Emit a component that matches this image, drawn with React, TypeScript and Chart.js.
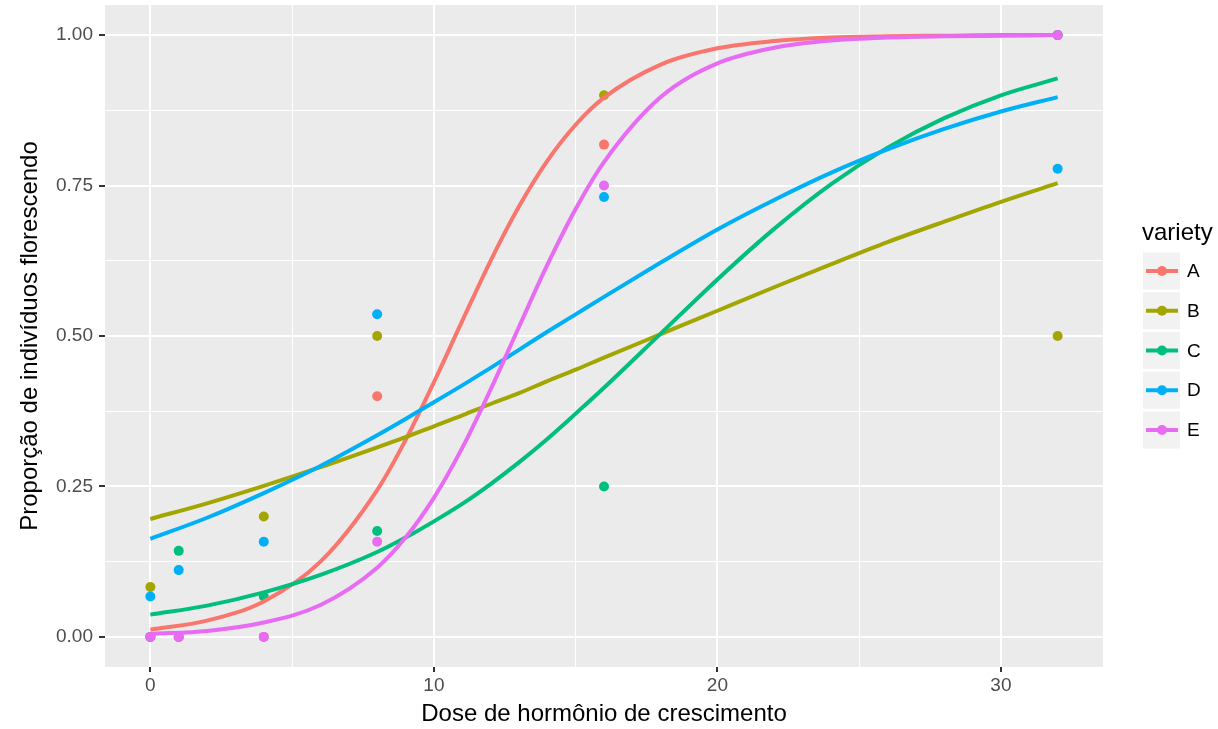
import React, { useEffect, useRef } from "react";
import { Chart, registerables } from "chart.js";

Chart.register(...registerables);

const varieties = ["A", "B", "C", "D", "E"];
const colors = ["#F8766D", "#A3A500", "#00BF7D", "#00B0F6", "#E76BF3"];

// observed proportions
const doses = [0, 1, 4, 8, 16, 32];
const obsA = [0, 0, 0, 0.4, 0.818, 1];
const obsB = [0.083, 0, 0.2, 0.5, 0.9, 0.5];
const obsC = [0, 0.143, 0.067, 0.176, 0.25, 1];
const obsD = [0.067, 0.111, 0.158, 0.536, 0.731, 0.778];
const obsE = [0, 0, 0, 0.158, 0.75, 1];

// fitted curves
const curveDose = [0, 2, 4, 6, 8, 9, 10, 11, 12, 13, 14, 15, 16, 18, 20, 22, 24, 26, 28, 30, 32];
const fitA = [0.012, 0.027, 0.059, 0.125, 0.244, 0.327, 0.423, 0.525, 0.625, 0.715, 0.791, 0.851, 0.896, 0.951, 0.978, 0.99, 0.996, 0.998, 0.999, 1.0, 1.0];
const fitB = [0.196, 0.222, 0.251, 0.282, 0.315, 0.332, 0.35, 0.368, 0.387, 0.405, 0.425, 0.444, 0.464, 0.503, 0.542, 0.581, 0.619, 0.656, 0.69, 0.723, 0.754];
const fitC = [0.037, 0.052, 0.074, 0.103, 0.141, 0.165, 0.192, 0.221, 0.254, 0.29, 0.329, 0.371, 0.414, 0.504, 0.594, 0.678, 0.752, 0.813, 0.862, 0.9, 0.928];
const fitD = [0.163, 0.198, 0.239, 0.284, 0.335, 0.362, 0.39, 0.418, 0.447, 0.477, 0.507, 0.536, 0.565, 0.622, 0.677, 0.726, 0.771, 0.81, 0.844, 0.873, 0.897];
const fitE = [0.005, 0.01, 0.024, 0.053, 0.115, 0.165, 0.231, 0.314, 0.411, 0.515, 0.618, 0.711, 0.789, 0.897, 0.953, 0.979, 0.991, 0.996, 0.998, 0.999, 1.0];

const xTicks = [0, 5, 10, 15, 20, 25, 30];
const yTicks = [0, 0.125, 0.25, 0.375, 0.5, 0.625, 0.75, 0.875, 1];

const xTitle = "Dose de hormônio de crescimento";
const yTitle = "Proporção de indivíduos florescendo";
const legendTitle = "variety";

const FONT = "'Liberation Sans', Arial, Helvetica, sans-serif";

export default function App() {
  const ref = useRef<HTMLCanvasElement>(null);

  useEffect(() => {
    document.body.style.margin = "0";
    const canvas = ref.current;
    if (!canvas) return;
    const obs = [obsA, obsB, obsC, obsD, obsE];
    const fits = [fitA, fitB, fitC, fitD, fitE];

    const datasets: any[] = [];
    varieties.forEach((v, i) => {
      datasets.push({
        label: v + " obs",
        data: doses.map((d, k) => ({ x: d, y: obs[i][k] })),
        showLine: false,
        pointRadius: 5,
        pointBorderWidth: 0,
        pointBackgroundColor: colors[i],
        pointBorderColor: colors[i],
        order: 10 - i,
      });
    });
    varieties.forEach((v, i) => {
      datasets.push({
        label: v,
        data: curveDose.map((d, k) => ({ x: d, y: fits[i][k] })),
        showLine: true,
        borderColor: colors[i],
        borderWidth: 4,
        pointRadius: 0,
        cubicInterpolationMode: "monotone",
        fill: false,
        order: 5 - i,
      });
    });

    const bgPlugin = {
      id: "bg",
      beforeDraw(chart: any) {
        const { ctx, chartArea } = chart;
        ctx.save();
        ctx.fillStyle = "#FFFFFF";
        ctx.fillRect(0, 0, chart.width, chart.height);
        ctx.fillStyle = "#EBEBEB";
        ctx.fillRect(chartArea.left, chartArea.top, chartArea.right - chartArea.left, chartArea.bottom - chartArea.top);
        ctx.restore();
      },
    };

    const legendPlugin = {
      id: "ggLegend",
      afterDraw(chart: any) {
        const ctx = chart.ctx;
        ctx.save();
        ctx.fillStyle = "#000000";
        ctx.font = `24px ${FONT}`;
        ctx.textAlign = "left";
        ctx.textBaseline = "alphabetic";
        ctx.fillText(legendTitle, 1142, 240);
        varieties.forEach((v, i) => {
          const cy = 271 + i * 39.75;
          ctx.fillStyle = "#F2F2F2";
          ctx.fillRect(1143, cy - 18.5, 37, 37);
          ctx.strokeStyle = colors[i];
          ctx.lineWidth = 4;
          ctx.beginPath();
          ctx.moveTo(1146, cy);
          ctx.lineTo(1178, cy);
          ctx.stroke();
          ctx.fillStyle = colors[i];
          ctx.beginPath();
          ctx.arc(1162, cy, 5, 0, Math.PI * 2);
          ctx.fill();
          ctx.fillStyle = "#000000";
          ctx.font = `19px ${FONT}`;
          ctx.textBaseline = "middle";
          ctx.fillText(v, 1187, cy + 1);
        });
        ctx.restore();
      },
    };

    const chart = new Chart(canvas, {
      type: "scatter",
      data: { datasets },
      plugins: [bgPlugin, legendPlugin],
      options: {
        animation: false,
        responsive: false,
        devicePixelRatio: 1,
        layout: { padding: { left: 0, right: 115, top: 5, bottom: 0 } },
        plugins: { legend: { display: false }, tooltip: { enabled: false } },
        scales: {
          x: {
            type: "linear",
            min: -1.6,
            max: 33.6,
            afterBuildTicks: (scale: any) => {
              scale.ticks = xTicks.map((v) => ({ value: v }));
            },
            afterFit: (scale: any) => {
              scale.height = 62;
              scale.paddingLeft = 0;
              scale.paddingRight = 0;
            },
            border: { display: false },
            grid: {
              color: "#FFFFFF",
              lineWidth: (c: any) => (c.tick && c.tick.value % 10 === 0 ? 2 : 1),
              tickColor: (c: any) => (c.tick && c.tick.value % 10 === 0 ? "#333333" : "rgba(0,0,0,0)"),
              tickLength: 5,
              tickWidth: 2,
            },
            ticks: {
              autoSkip: false,
              maxRotation: 0,
              padding: 2,
              color: "#4D4D4D",
              font: { family: FONT, size: 19 },
              callback: (v: any) => (Number(v) % 10 === 0 ? String(v) : ""),
            },
            title: {
              display: true,
              text: xTitle,
              color: "#000000",
              font: { family: FONT, size: 24 },
              padding: { top: 0, bottom: 0 },
            },
          },
          y: {
            type: "linear",
            min: -0.05,
            max: 1.05,
            afterBuildTicks: (scale: any) => {
              scale.ticks = yTicks.map((v) => ({ value: v }));
            },
            afterFit: (scale: any) => {
              scale.width = 105;
              scale.paddingTop = 0;
              scale.paddingBottom = 0;
            },
            border: { display: false },
            grid: {
              color: "#FFFFFF",
              lineWidth: (c: any) => (c.tick && c.tick.value % 0.25 === 0 ? 2 : 1),
              tickColor: (c: any) => (c.tick && c.tick.value % 0.25 === 0 ? "#333333" : "rgba(0,0,0,0)"),
              tickLength: 6,
              tickWidth: 2,
            },
            ticks: {
              autoSkip: false,
              padding: 6,
              color: "#4D4D4D",
              font: { family: FONT, size: 19 },
              callback: (v: any) => (Number(v) % 0.25 === 0 ? Number(v).toFixed(2) : ""),
            },
            title: {
              display: true,
              text: yTitle,
              color: "#000000",
              font: { family: FONT, size: 24 },
              padding: { top: 16, bottom: 0 },
            },
          },
        },
      },
    } as any);

    return () => chart.destroy();
  }, []);

  return <canvas ref={ref} width={1218} height={729} style={{ display: "block" }} />;
}
